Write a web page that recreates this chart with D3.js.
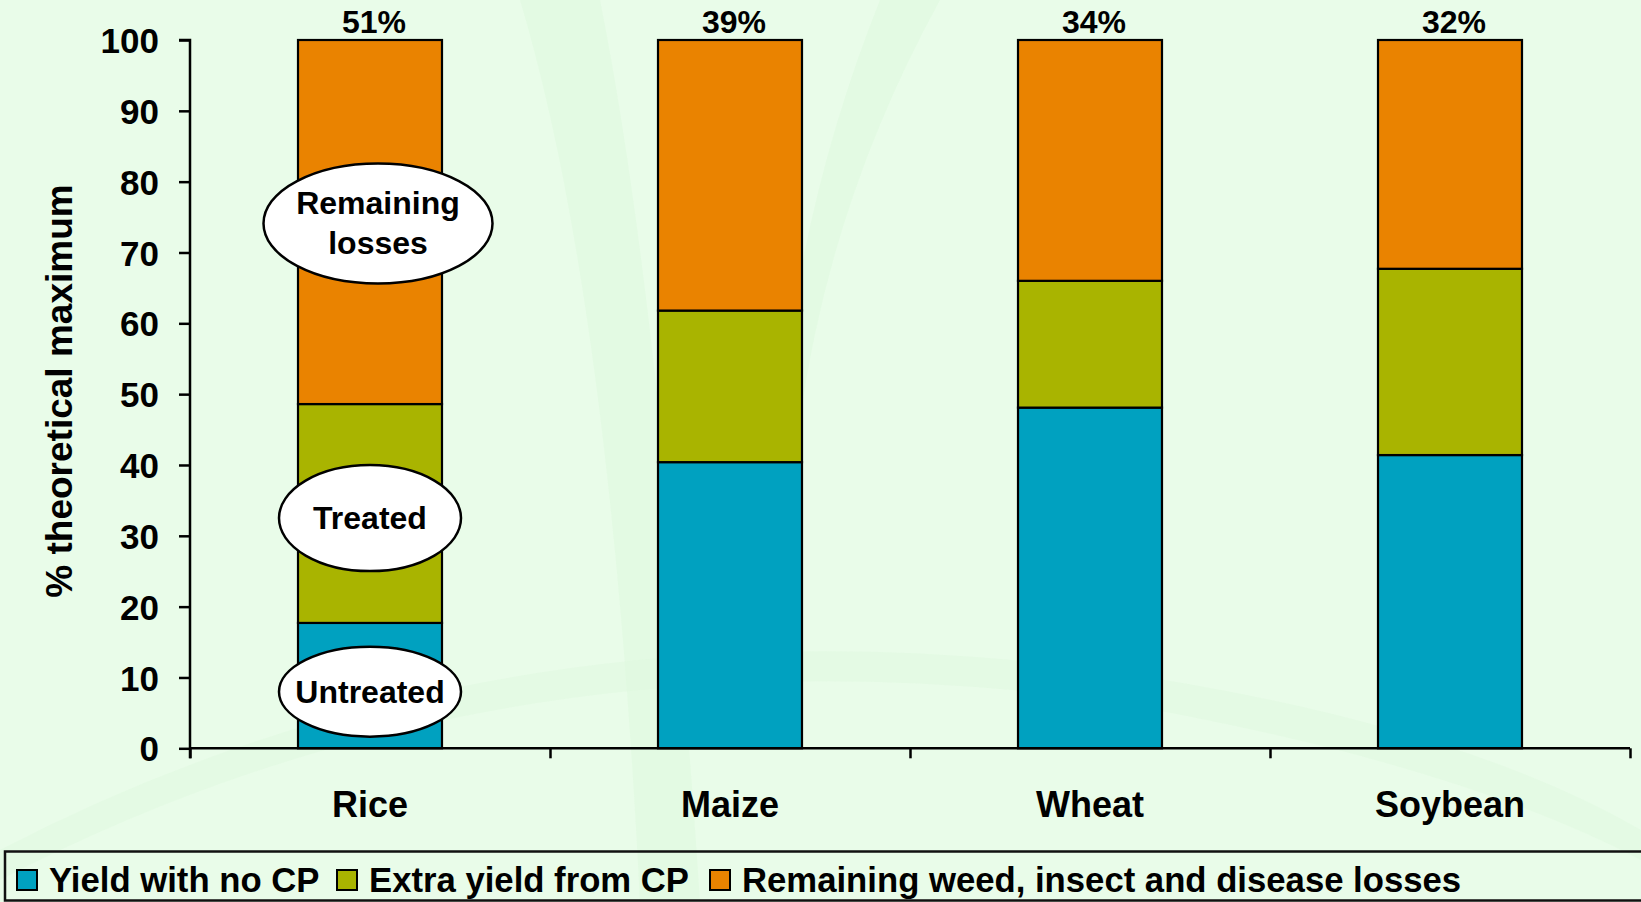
<!DOCTYPE html>
<html>
<head>
<meta charset="utf-8">
<script src="https://cdn.jsdelivr.net/npm/d3@7"></script>
<style>
  html, body { margin: 0; padding: 0; background: #e9fce9; }
  svg { display: block; }
  text { font-family: "Liberation Sans", Arial, Helvetica, sans-serif; font-weight: bold; fill: #000; }
</style>
</head>
<body>
<svg id="chart" width="1641" height="902"></svg>
<script>
// ---- data ----
const categories = ["Rice", "Maize", "Wheat", "Soybean"];
const yieldNoCP = [17.7, 40.4, 48.1, 41.4];
const extraFromCP = [30.9, 21.4, 17.9, 26.3];
const remainingLosses = [51.4, 38.2, 34.0, 32.3];
const topLabels = ["51%", "39%", "34%", "32%"];
const seriesNames = ["Yield with no CP", "Extra yield from CP", "Remaining weed, insect and disease losses"];
const yTicks = [0, 10, 20, 30, 40, 50, 60, 70, 80, 90, 100];
const annotTexts = [["Remaining", "losses"], ["Treated"], ["Untreated"]];
const annotValues = [74.1, 32.5, 8.0];
const yTitle = "% theoretical maximum";

const colors = ["#00a1c0", "#a9b400", "#ea8300"];

const svg = d3.select("#chart");
const W = 1641, H = 902;
const pLeft = 190, pRight = 1630, pTop = 40, pBottom = 748.3;

// background decoration (faint)
const bg = svg.append("g");
bg.append("rect").attr("width", W).attr("height", H).attr("fill", "#e9fce9");
bg.append("path").attr("d", "M520,0 Q610,300 640,902 L700,902 Q660,300 600,0 Z").attr("fill", "#dcf9dc").attr("opacity", 0.45);
bg.append("path").attr("d", "M880,0 Q800,200 780,420 L800,420 Q830,200 940,0 Z").attr("fill", "#dcf9dc").attr("opacity", 0.45);
bg.append("path").attr("d", "M0,880 Q500,620 1100,700 Q1450,760 1641,860 L1641,830 Q1450,720 1100,670 Q500,590 0,850 Z").attr("fill", "#ddf9dd").attr("opacity", 0.45);

const y = d3.scaleLinear().domain([0, 100]).range([pBottom, pTop]);
const x = d3.scaleBand().domain(categories).range([pLeft, pRight]).paddingInner(0.6).paddingOuter(0.3);
const xEdge = d3.scaleLinear().domain([0, categories.length]).range([pLeft, pRight]);

// stacked data
const rows = categories.map((c, i) => ({ cat: c, a: yieldNoCP[i], b: extraFromCP[i], c: 100 - yieldNoCP[i] - extraFromCP[i] }));
const stack = d3.stack().keys(["a", "b", "c"])(rows);

const gBars = svg.append("g");
stack.forEach((layer, li) => {
  gBars.selectAll(null).data(layer).enter().append("rect")
    .attr("x", d => x(d.data.cat))
    .attr("width", x.bandwidth())
    .attr("y", d => y(d[1]))
    .attr("height", d => y(d[0]) - y(d[1]))
    .attr("fill", colors[li])
    .attr("stroke", "#000")
    .attr("stroke-width", 2.2);
});

// Y axis
const yAxis = d3.axisLeft(y).tickValues(yTicks).tickSize(11).tickPadding(20).tickFormat(d3.format("d"));
const gy = svg.append("g").attr("transform", `translate(${pLeft},0)`).call(yAxis);
gy.select(".domain").attr("stroke", "#000").attr("stroke-width", 2.5).attr("d", `M-11,${pTop}H0V${pBottom + 10}`);
gy.selectAll(".tick line").attr("stroke", "#000").attr("stroke-width", 2.5);
gy.selectAll(".tick text").attr("font-size", 35).attr("font-family", '"Liberation Sans", Arial, sans-serif').attr("font-weight", "bold").attr("fill", "#000").attr("dy", "0.36em");

// X axis (boundaries)
const xAxis = d3.axisBottom(xEdge).tickValues(d3.range(categories.length + 1)).tickSize(10).tickFormat("");
const gx = svg.append("g").attr("transform", `translate(0,${pBottom})`).call(xAxis);
gx.select(".domain").attr("stroke", "#000").attr("stroke-width", 2.5).attr("d", `M${pLeft},0H${pRight}`);
gx.selectAll(".tick line").attr("stroke", "#000").attr("stroke-width", 2.5);

// category labels
svg.append("g").selectAll("text").data(categories).enter().append("text")
  .attr("x", d => x(d) + x.bandwidth() / 2)
  .attr("y", 817)
  .attr("text-anchor", "middle")
  .attr("font-size", 36)
  .text(d => d);

// top percent labels
svg.append("g").selectAll("text").data(topLabels).enter().append("text")
  .attr("x", (d, i) => x(categories[i]) + x.bandwidth() / 2 + 4)
  .attr("y", y(100) - 7)
  .attr("text-anchor", "middle")
  .attr("font-size", 32)
  .text(d => d);

// y title
svg.append("text")
  .attr("transform", `translate(72,391) rotate(-90)`)
  .attr("text-anchor", "middle")
  .attr("font-size", 37)
  .text(yTitle);

// annotations (ellipses on Rice bar)
const annotSizes = [[114.5, 60], [91, 53], [91, 45]];
const annotDx = [8, 0, 0];
const cx0 = x("Rice") + x.bandwidth() / 2;
const gA = svg.append("g");
annotTexts.forEach((lines, i) => {
  const cy = y(annotValues[i]);
  const cx = cx0 + annotDx[i];
  gA.append("ellipse").attr("cx", cx).attr("cy", cy).attr("rx", annotSizes[i][0]).attr("ry", annotSizes[i][1])
    .attr("fill", "#fff").attr("stroke", "#000").attr("stroke-width", 2.5);
  const lh = 40;
  lines.forEach((t, k) => {
    gA.append("text").attr("x", cx).attr("y", cy + (k - (lines.length - 1) / 2) * lh + 11)
      .attr("text-anchor", "middle").attr("font-size", 32).text(t);
  });
});

// legend
const lg = svg.append("g");
lg.append("rect").attr("x", 5).attr("y", 851.5).attr("width", 1700).attr("height", 49)
  .attr("fill", "none").attr("stroke", "#111").attr("stroke-width", 2.5);
const legendX = [17, 337, 710];
seriesNames.forEach((s, i) => {
  lg.append("rect").attr("x", legendX[i]).attr("y", 870).attr("width", 20).attr("height", 20)
    .attr("fill", colors[i]).attr("stroke", "#000").attr("stroke-width", 2);
  lg.append("text").attr("x", legendX[i] + 32).attr("y", 891.5).attr("font-size", 34.7).text(s);
});
</script>
</body>
</html>
